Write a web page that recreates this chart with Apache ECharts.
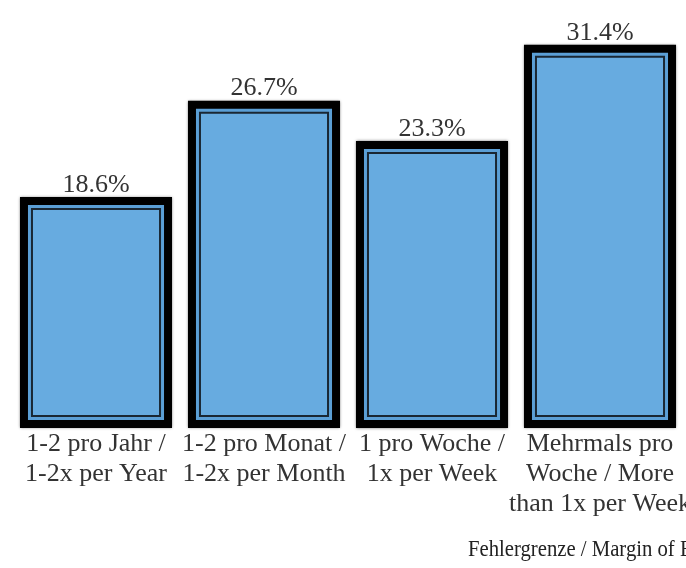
<!DOCTYPE html>
<html>
<head>
<meta charset="utf-8">
<script src="https://cdn.jsdelivr.net/npm/echarts@6/dist/echarts.min.js"></script>
<style>html,body{margin:0;padding:0;background:#fff}#c{width:686px;height:568px}</style>
</head>
<body>
<div id="c"></div>
<script>
const categories = [
  "1-2 pro Jahr /\n1-2x per Year",
  "1-2 pro Monat /\n1-2x per Month",
  "1 pro Woche /\n1x per Week",
  "Mehrmals pro\nWoche / More\nthan 1x per Week"
];
const values = [18.6, 26.7, 23.3, 31.4];
const footnote = "Fehlergrenze / Margin of Error";

const FONT = '"Liberation Serif", "Times New Roman", serif';
const chart = echarts.init(document.getElementById('c'), null, {renderer: 'canvas'});
chart.setOption({
  animation: false,
  grid: {left: 12, right: 2, top: 12, bottom: 140, containLabel: false, outerBoundsMode: 'none'},
  xAxis: {
    type: 'category',
    data: categories,
    axisLine: {show: false},
    axisTick: {show: false},
    axisLabel: {interval: 0, margin: 1, color: '#333', fontFamily: FONT, fontSize: 26, lineHeight: 30, hideOverlap: false}
  },
  yAxis: {type: 'value', min: 0, max: 35, show: false, splitLine: {show: false}},
  series: [{
    type: 'custom',
    data: values.map((v, i) => [i, v]),
    clip: false,
    renderItem: function (params, api) {
      const i = api.value(0), v = api.value(1);
      const top = api.coord([i, v]);
      const base = api.coord([i, 0]);
      const band = api.size([1, 0])[0];
      const w = band * 0.786;
      const x0 = top[0] - w / 2, y0 = top[1];
      const ox = x0 - 10, oy = y0 - 10, ow = w + 20, oh = base[1] - oy;
      return {
        type: 'group',
        children: [
          {type: 'rect', shape: {x: ox, y: oy, width: ow, height: oh},
           style: {fill: '#000', shadowBlur: 3, shadowColor: 'rgba(0,0,0,0.6)'}},
          {type: 'rect', shape: {x: ox + 8, y: oy + 8, width: ow - 16, height: oh - 16},
           style: {fill: '#5b9fd6'}},
          {type: 'rect', shape: {x: ox + 12, y: oy + 12, width: ow - 24, height: oh - 24},
           style: {fill: '#67abe0', stroke: '#1a2733', lineWidth: 2}},
          {type: 'text', x: top[0], y: oy + 1,
           style: {text: v.toFixed(1) + '%', textAlign: 'center', textVerticalAlign: 'bottom',
                   fill: '#333', font: '26px ' + FONT}}
        ]
      };
    }
  }],
  graphic: [{
    type: 'text', left: 468, top: 538, scaleX: 0.9,
    style: {text: footnote, fill: '#222', font: '23px ' + FONT}
  }]
});
</script>
</body>
</html>
